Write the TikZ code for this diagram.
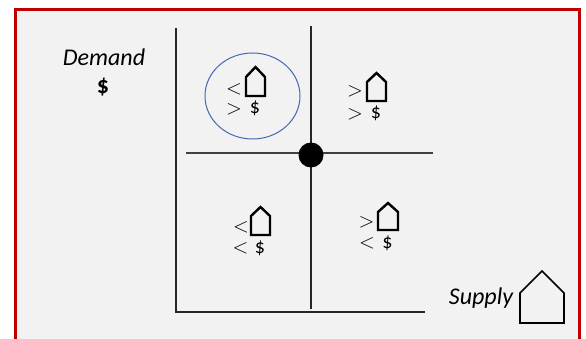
\documentclass[tikz,border=0pt]{standalone}
\usepackage{fontspec}
\setmainfont{Carlito}
\usetikzlibrary{shapes.geometric}
\begin{document}
\begin{tikzpicture}[x=1pt,y=-1pt,
  lbl/.style={inner sep=0pt,outer sep=0pt,font=\fontsize{24}{24}\selectfont\itshape},
  rel/.style={inner sep=0pt,outer sep=0pt,font=\fontsize{22}{22}\selectfont},
  dol/.style={inner sep=0pt,outer sep=0pt,font=\fontsize{20}{20}\selectfont},
  axis/.style={line width=1.3pt,draw=black!85},
  house/.style={line width=2.4pt,line join=miter,draw=black},
  bighouse/.style={line width=1.6pt,line join=miter,draw=black}]
\useasboundingbox (0,0) rectangle (586,339);
% frame
\fill[white] (0,0) rectangle (586,339);
\fill[black!5] (15.5,9.5) rectangle (579.5,345);
\draw[line width=2.6pt,draw={rgb,255:red,192;green,0;blue,0}] (15.5,345) -- (15.5,9.5) -- (579.5,9.5) -- (579.5,345);
% axes
\coordinate (ytop) at (176,28);
\coordinate (orig) at (176,312);
\coordinate (xend) at (425,312);
\draw[axis] (ytop) -- (orig) -- (xend);
\coordinate (vtop) at (311,26);
\coordinate (vbot) at (311,309);
\draw[axis] (vtop) -- (vbot);
\coordinate (hl) at (186,153);
\coordinate (hr) at (433,153);
\draw[line width=2pt,draw=black!75] (hl) -- (hr);
\node[circle,fill=black,minimum size=25pt,inner sep=0pt] (eq) at (311,155) {};
% ellipse
\node[ellipse,draw={rgb,255:red,68;green,104;blue,176},line width=1pt,minimum width=95pt,minimum height=86pt,inner sep=0pt] (circ) at (252.5,96) {};
% labels
\node[lbl] (demand) at (104,57) {Demand};
\node[inner sep=0pt,font=\fontsize{24}{24}\selectfont\bfseries] (dem) at (103,87) {\$};
\node[lbl] (supply) at (481,298) {Supply};
\draw[bighouse] (520,323) -- (520,293) -- (542,271) -- (564,293) -- (564,323) -- cycle;
% UL
\node[rel] (ul1) at (234,89.5) {$<$};
\node[rel] (ul2) at (234,109.5) {$>$};
\node[dol] (uld) at (255,108.5) {\$};
\draw[house] (246,96) -- (246,77) -- (255.5,67) -- (265,77) -- (265,96) -- cycle;
% UR
\node[rel] (ur1) at (355,91) {$>$};
\node[rel] (ur2) at (355,114.5) {$>$};
\node[dol] (urd) at (376,113.5) {\$};
\draw[house] (367,101) -- (367,82) -- (376.5,73) -- (386,82) -- (386,101) -- cycle;
% LL
\node[rel] (ll1) at (241,227.5) {$<$};
\node[rel] (ll2) at (240.5,248) {$<$};
\node[dol] (lld) at (260,248.5) {\$};
\draw[house] (251,235) -- (251,216) -- (260.5,207) -- (270,216) -- (270,235) -- cycle;
% LR
\node[rel] (lr1) at (366.5,222.5) {$>$};
\node[rel] (lr2) at (367,243) {$<$};
\node[dol] (lrd) at (387.5,243.5) {\$};
\draw[house] (378,230) -- (378,212) -- (388,203) -- (398,212) -- (398,230) -- cycle;
\end{tikzpicture}
\end{document}
